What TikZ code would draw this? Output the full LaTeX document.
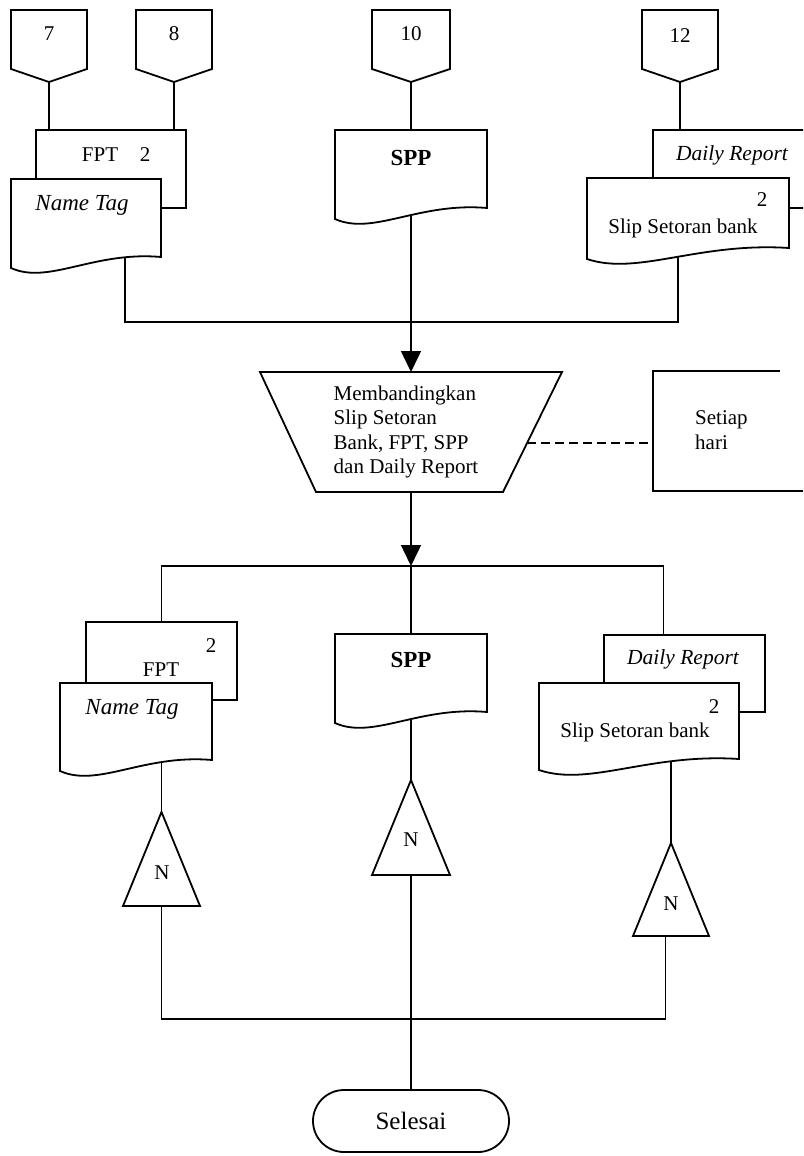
\documentclass[tikz,border=0pt]{standalone}
\usepackage{fontspec}
\setmainfont{Liberation Serif}
\usetikzlibrary{calc,fit,backgrounds,arrows.meta}

% invisible frame node spanning a rectangle (x1,y1)-(x2,y2)
\newcommand\area[5]{\node[fit={(#2,#3) (#4,#5)}, inner sep=0pt, outer sep=0pt] (#1) {};}
% document symbol with wavy bottom
\newcommand\drawdoc[1]{\draw[shp] (#1.north west) -- (#1.north east) -- (#1.south east)
  .. controls ($(#1.south west)!0.55!(#1.south east)+(0,-6)$) and ($(#1.south west)!0.25!(#1.south east)+(0,28)$)
  .. ($(#1.south west)+(0,11)$) -- cycle;}
% off-page connector
\newcommand\drawoff[1]{\draw[shp] (#1.north west) -- (#1.north east) -- ($(#1.south east)+(0,-13)$)
  -- (#1.south) -- ($(#1.south west)+(0,-13)$) -- cycle;}
% merge triangle
\newcommand\drawtri[1]{\draw[shp] (#1.north) -- (#1.south east) -- (#1.south west) -- cycle;}

\tikzset{
  shp/.style={draw=black, line width=1.8pt, fill=white, line join=miter},
  conn/.style={draw=black, line width=1.5pt},
  arr/.style={conn, -{Triangle[length=21pt,width=20pt]}},
  txt/.style={inner sep=0pt, font=\fontsize{21}{24.5}\selectfont},
  itxt/.style={inner sep=0pt, font=\fontsize{21.5}{25}\selectfont\itshape},
  ntxt/.style={inner sep=0pt, font=\fontsize{23}{27}\selectfont\itshape},
  btxt/.style={inner sep=0pt, font=\fontsize{23}{27}\selectfont\bfseries},
}

\begin{document}
\begin{tikzpicture}[x=1pt,y=-1pt]
\useasboundingbox (0,0) rectangle (803,1156);

% ---- frames ----
\area{c7}{11}{10}{87}{82}
\area{c8}{136}{10}{212}{82}
\area{c10}{372}{10}{450}{82}
\area{c12}{642}{10}{718}{82}
\area{fptA}{36}{130}{186}{208}
\area{ntA}{11}{179}{161}{257}
\area{sppA}{335}{130}{487}{208}
\area{drA}{653}{130}{840}{208}
\area{slA}{587}{178}{789}{248}
\area{cmp}{260}{372}{562}{492}
\area{frq}{653}{371}{803}{491}
\area{fptB}{86}{622}{237}{700}
\area{ntB}{60}{683}{212}{760}
\area{sppB}{335}{634}{487}{712}
\area{drB}{604}{635}{765}{712}
\area{slB}{539}{683}{739}{759}
\area{t1}{123}{812}{200}{906}
\area{t2}{372}{780}{450}{875}
\area{t3}{633}{843}{709}{936}
\coordinate (jT) at (411,322);
\coordinate (jB) at (411,566);
\coordinate (jE) at (411,1019);
\coordinate (cmpBR) at ($(cmp.south east)+(-59,0)$);
\coordinate (cmpR) at ($(cmp.north east)!0.592!(cmpBR)$);

% ---- shapes ----
\drawoff{c7}
\drawoff{c8}
\drawoff{c10}
\drawoff{c12}

\draw[shp] (fptA.north west) rectangle (fptA.south east);
\drawdoc{ntA}
\drawdoc{sppA}
\begin{scope}
  \clip (0,0) rectangle (803,1156);
  \draw[shp] (drA.north west) rectangle (drA.south east);
\end{scope}
\drawdoc{slA}

\draw[shp] (cmp.north west) -- (cmp.north east) -- (cmpBR) -- ($(cmp.south west)+(56,0)$) -- cycle;
\draw[shp, fill=none] ($(frq.north west)+(127,0)$) -- (frq.north west) -- (frq.south west) -- (frq.south east);

\draw[shp] (fptB.north west) rectangle (fptB.south east);
\drawdoc{ntB}
\drawdoc{sppB}
\draw[shp] (drB.north west) rectangle (drB.south east);
\drawdoc{slB}

\drawtri{t1}
\drawtri{t2}
\drawtri{t3}

\node[shp, rounded corners=31pt, minimum width=196pt, minimum height=62pt, inner sep=0pt,
      font=\fontsize{25}{30}\selectfont] (end) at (411,1121) {Selesai};

% ---- connectors, behind the symbols ----
\begin{scope}[on background layer]
  \fill[white] (0,0) rectangle (803,1156);
  \draw[conn] (c7.south) -- (c7.south |- fptA.north);
  \draw[conn] (c8.south) -- (c8.south |- fptA.north);
  \draw[conn] (c10.south) -- (c10.south |- sppA.north);
  \draw[conn] (c12.south) -- (c12.south |- drA.north);
  \draw[conn] ($(ntA.south west)!0.76!(ntA.south east)$) |- (jT) -| ($(slA.south west)!0.45!(slA.south east)$);
  \draw[arr] (sppA.south) -- (sppA.south |- cmp.north);
  \draw[arr] (cmp.south) -- (jB);
  \draw[conn] (fptB.north) |- (jB) -| ($(drB.north west)!0.37!(drB.north east)$);
  \draw[conn] (jB) -- (jB |- sppB.north);
  \draw[conn] (t1.north |- ntB.south) -- (t1.north);
  \draw[conn] (t2.north |- sppB.south) -- (t2.north);
  \draw[conn] (t3.north |- slB.south) -- (t3.north);
  \draw[conn] (t1.south) |- (jE) -| ($(t3.south west)!0.43!(t3.south east)$);
  \draw[conn] (t2.south) -- (end.north);
\end{scope}
\draw[conn, dash pattern=on 9pt off 5pt] (cmpR) -- (cmpR -| frq.west);

% ---- labels ----
\node[txt] (l7) at (49,34) {7};
\node[txt] (l8) at (174,34) {8};
\node[txt] (l10) at (411,34) {10};
\node[txt] (l12) at (680,36) {12};

\node[txt] (lfptA) at (100,155) {FPT};
\node[txt] (l2a) at (145,155) {2};
\node[ntxt] (lntA) at (82,205) {Name Tag};
\node[btxt] (lsppA) at (411,158) {SPP};
\node[itxt] (ldrA) at (732,155) {Daily Report};
\node[txt] (l2b) at (762,200) {2};
\node[txt] (lslA) at (683,228) {Slip Setoran bank};

\node[txt, align=left] (lcmp) at (406,432) {Membandingkan\\Slip Setoran\\Bank, FPT, SPP\\dan Daily Report};
\node[txt, align=left, anchor=west] (lfrq) at (695,430) {Setiap\\hari};

\node[txt] (l2c) at (211,646) {2};
\node[txt] (lfptB) at (161,670) {FPT};
\node[ntxt] (lntB) at (132,709) {Name Tag};
\node[btxt] (lsppB) at (411,660) {SPP};
\node[itxt] (ldrB) at (683,659) {Daily Report};
\node[txt] (l2d) at (714,707) {2};
\node[txt] (lslB) at (635,732) {Slip Setoran bank};

\node[txt] (n1) at (162,873) {N};
\node[txt] (n2) at (411,840) {N};
\node[txt] (n3) at (671,904) {N};
\end{tikzpicture}
\end{document}
